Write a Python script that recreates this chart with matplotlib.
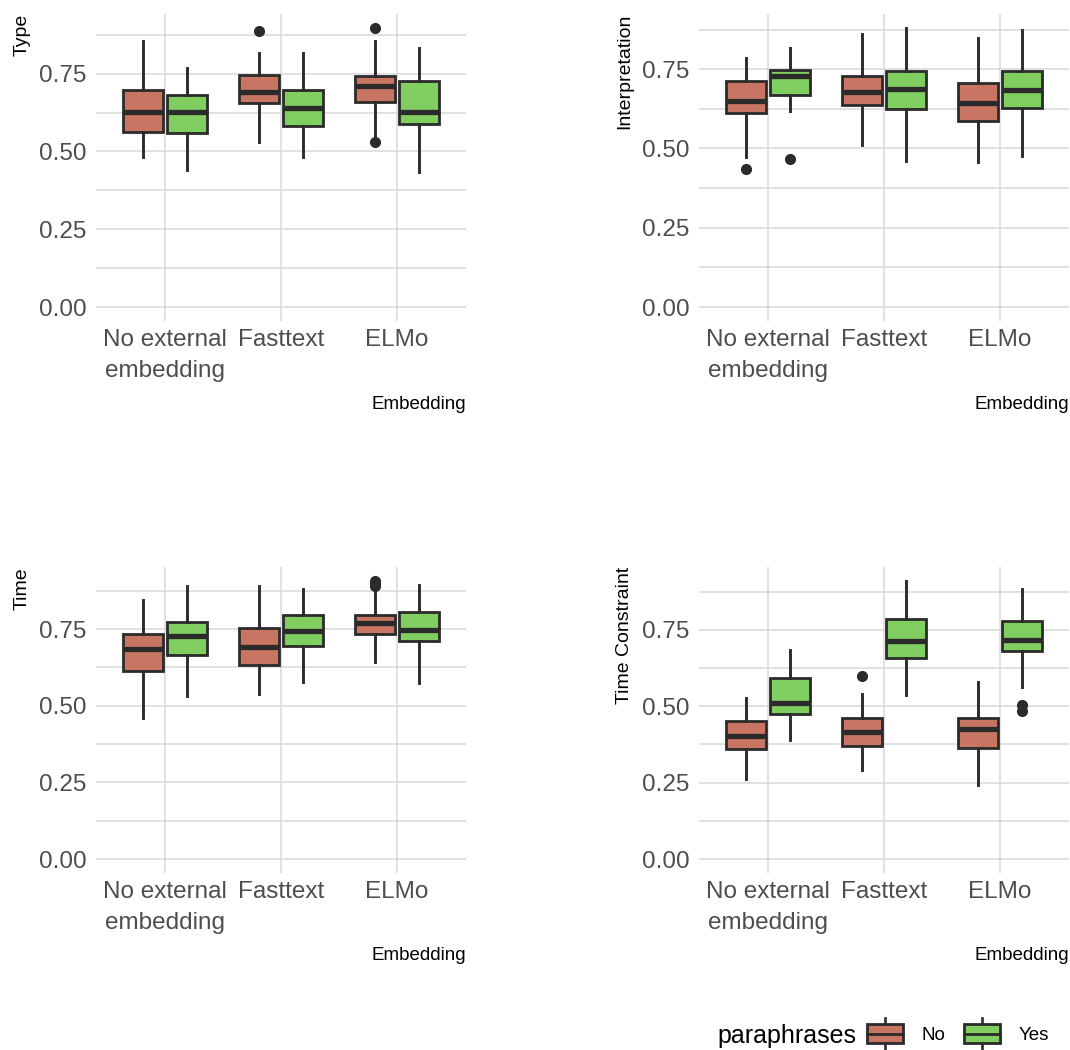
import matplotlib
matplotlib.use("Agg")
import matplotlib.pyplot as plt
from matplotlib.legend_handler import HandlerBase
from matplotlib.patches import Patch, Rectangle
from matplotlib.lines import Line2D

plt.rcParams['font.family'] = ['Liberation Sans', 'DejaVu Sans']

categories = ["No external\nembedding", "Fasttext", "ELMo"]
groups = ["No", "Yes"]
panel_titles = ["Type", "Interpretation", "Time", "Time Constraint"]

# each row: whislo, q1, median, q3, whishi  (one row per embedding)
type_no = [[0.483, 0.563, 0.628, 0.699, 0.855],
           [0.531, 0.655, 0.692, 0.746, 0.818],
           [0.548, 0.659, 0.712, 0.741, 0.855]]
type_no_out = [[], [0.888], [0.529, 0.897]]
type_yes = [[0.442, 0.560, 0.628, 0.682, 0.768],
            [0.481, 0.583, 0.641, 0.697, 0.817],
            [0.433, 0.589, 0.628, 0.725, 0.832]]
type_yes_out = [[], [], []]

interp_no = [[0.473, 0.613, 0.650, 0.713, 0.785],
             [0.512, 0.637, 0.678, 0.728, 0.861],
             [0.457, 0.587, 0.642, 0.707, 0.849]]
interp_no_out = [[0.436], [], []]
interp_yes = [[0.619, 0.669, 0.730, 0.746, 0.816],
              [0.459, 0.626, 0.687, 0.744, 0.880],
              [0.476, 0.629, 0.685, 0.744, 0.873]]
interp_yes_out = [[0.467], [], []]

time_no = [[0.459, 0.613, 0.685, 0.735, 0.846],
           [0.537, 0.634, 0.692, 0.753, 0.892],
           [0.643, 0.733, 0.769, 0.795, 0.870]]
time_no_out = [[], [], [0.892, 0.900, 0.907]]
time_yes = [[0.531, 0.665, 0.729, 0.774, 0.890],
            [0.579, 0.695, 0.745, 0.795, 0.881],
            [0.575, 0.710, 0.747, 0.807, 0.893]]
time_yes_out = [[], [], []]

tc_no = [[0.262, 0.359, 0.404, 0.453, 0.528],
         [0.293, 0.371, 0.416, 0.463, 0.540],
         [0.244, 0.364, 0.427, 0.460, 0.579]]
tc_no_out = [[], [0.600], []]
tc_yes = [[0.389, 0.476, 0.510, 0.594, 0.684],
          [0.536, 0.658, 0.715, 0.785, 0.910],
          [0.564, 0.682, 0.717, 0.779, 0.885]]
tc_yes_out = [[], [], [0.484, 0.503]]

panels = [
    (type_no, type_no_out, type_yes, type_yes_out),
    (interp_no, interp_no_out, interp_yes, interp_yes_out),
    (time_no, time_no_out, time_yes, time_yes_out),
    (tc_no, tc_no_out, tc_yes, tc_yes_out),
]

colors = {"No": "#C97563", "Yes": "#80CD60"}
edge = "#2b2b2b"
grid_col = "#d9d9d9"
tick_col = "#4d4d4d"

W, H = 1070, 1050
fig = plt.figure(figsize=(W / 100, H / 100), dpi=100)

# panel boxes in pixels: left, top, width, height
boxes_px = [(96, 14, 370, 307), (699, 14, 370, 307),
            (96, 567, 370, 306), (699, 567, 370, 306)]


def make_stats(rows, outs):
    st = []
    for r, o in zip(rows, outs):
        st.append(dict(whislo=r[0], q1=r[1], med=r[2], q3=r[3], whishi=r[4], fliers=o))
    return st


for (l, t, w, h), title, (no, no_out, yes, yes_out) in zip(boxes_px, panel_titles, panels):
    ax = fig.add_axes([l / W, 1 - (t + h) / H, w / W, h / H])
    x = [1, 2, 3]
    for grp, rows, outs, off in (("No", no, no_out, -0.19), ("Yes", yes, yes_out, 0.19)):
        ax.bxp(make_stats(rows, outs), positions=[p + off for p in x], widths=0.345,
               patch_artist=True, showcaps=False, manage_ticks=False,
               boxprops=dict(facecolor=colors[grp], edgecolor=edge, linewidth=2.0),
               medianprops=dict(color=edge, linewidth=3.8, solid_capstyle='butt'),
               whiskerprops=dict(color=edge, linewidth=2.1),
               flierprops=dict(marker='o', markerfacecolor=edge, markeredgecolor=edge,
                               markersize=7))
    top = max(max(max(r) for r in no), max(max(r) for r in yes),
              max([v for o in no_out + yes_out for v in o] + [0]))
    ax.set_ylim(-0.05 * top, 1.05 * top)
    ax.set_xlim(0.4, 3.6)

    ax.set_yticks([0, 0.25, 0.5, 0.75])
    ax.set_yticklabels(["0.00", "0.25", "0.50", "0.75"])
    ax.set_yticks([0.125, 0.375, 0.625, 0.875], minor=True)
    ax.set_xticks(x)
    ax.set_xticklabels(categories, linespacing=1.5, multialignment='center')
    for lab in ax.get_xticklabels() + ax.get_yticklabels():
        lab.set_fontsize(17.5)
        lab.set_color(tick_col)
    ax.tick_params(axis='both', which='both', length=0)
    ax.tick_params(axis='y', pad=7)
    ax.tick_params(axis='x', pad=6)

    ax.set_axisbelow(True)
    ax.grid(True, which='major', color=grid_col, linewidth=1.1)
    ax.grid(True, which='minor', axis='y', color=grid_col, linewidth=1.1)
    for s in ax.spines.values():
        s.set_visible(False)

    ax.set_ylabel(title, loc='top', fontsize=14, color='black')
    ax.yaxis.set_label_coords(-0.178, 1.0)
    ax.set_xlabel("Embedding", loc='right', fontsize=13.5, color='black')
    ax.xaxis.set_label_coords(1.0, -0.243)


class BoxHandler(HandlerBase):
    def create_artists(self, legend, orig_handle, xdescent, ydescent, width, height,
                       fontsize, trans):
        x0, y0 = -xdescent, -ydescent
        whisk = Line2D([x0 + width / 2] * 2, [y0 - 0.3 * height, y0 + 1.3 * height],
                       color=edge, linewidth=1.9, transform=trans)
        rect = Rectangle((x0, y0), width, height, facecolor=orig_handle.get_facecolor(),
                         edgecolor=edge, linewidth=2.0, transform=trans)
        mid = Line2D([x0, x0 + width], [y0 + height / 2] * 2, color=edge,
                     linewidth=2.0, transform=trans)
        return [whisk, rect, mid]


handles = [Patch(facecolor=colors[g]) for g in groups]
fig.legend(handles, groups, handler_map={Patch: BoxHandler()},
           loc='center left', bbox_to_anchor=(867 / W, 1 - 1034 / H), ncol=2,
           frameon=False, fontsize=13.5, handlelength=1.9, handleheight=1.2,
           handletextpad=1.0, columnspacing=1.0, borderpad=0, borderaxespad=0)
fig.text(717 / W, 1 - 1036 / H, "paraphrases", fontsize=18, va='center', ha='left')

fig.savefig("out.png", dpi=100)
